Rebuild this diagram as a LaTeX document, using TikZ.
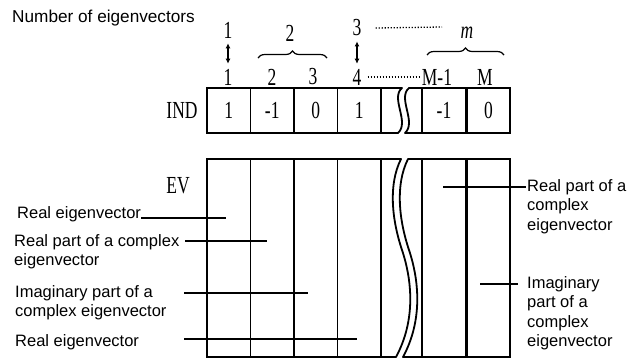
\documentclass[tikz,border=0pt]{standalone}
\usepackage{fontspec}
\setmainfont{Liberation Serif}
\setsansfont{Liberation Sans}
\usetikzlibrary{arrows.meta,decorations.pathreplacing}

\newcommand{\tallnum}[1]{\scalebox{1}[1.4]{#1}}

\begin{document}
\begin{tikzpicture}[
    x=1pt, y=-1pt,
    num/.style={
        font=\fontsize{17.5}{20}\selectfont,
        inner sep=2pt
    },
    txt/.style={
        font=\sffamily\fontsize{16.5}{19.5}\selectfont,
        align=left,
        inner sep=0pt
    },
    cell/.style={
        draw,
        line width=1.8pt,
        minimum width=43.5pt,
        inner sep=0pt,
        outer sep=0pt,
        font=\fontsize{17.5}{20}\selectfont
    },
    indcell/.style={cell, minimum height=45pt},
    evcell/.style={cell, minimum height=198pt},
    border/.style={line width=1.8pt, line join=round},
    leader/.style={line width=1.2pt},
    dotline/.style={line width=1.3pt, dash pattern=on 1.3pt off 1.7pt},
    updown/.style={{Latex[length=5pt,width=5pt]}-{Latex[length=5pt,width=5pt]}, line width=1.1pt, shorten <=3pt, shorten >=3pt},
    grp/.style={decorate, decoration={brace, amplitude=7pt}, line width=1.2pt}
]
    \useasboundingbox (0,0) rectangle (642,360);

    %% Titel
    \node[txt, anchor=base west, font=\sffamily\fontsize{17.2}{20}\selectfont] (title) at (12,22) {Number of eigenvectors};

    %% Nummern oben
    \node[num] (n1top) at (228,30) {\tallnum{1}};
    \node[num] (n2top) at (290,33) {\tallnum{2}};
    \node[num] (n3top) at (357,28) {\tallnum{3}};
    \node[num] (nmtop) at (467,33) {\tallnum{\textit{m}}};
    \node[num] (n1) at (228,77) {\tallnum{1}};
    \node[num] (n2) at (272,77) {\tallnum{2}};
    \node[num] (n3) at (313,77) {\tallnum{3}};
    \node[num] (n4) at (357,77) {\tallnum{4}};
    \node[num] (nM1) at (437,77) {\tallnum{M-1}};
    \node[num] (nM) at (485,77) {\tallnum{M}};

    \draw[updown] (n1top) -- (n1);
    \draw[updown] (n3top) -- (n4);
    \coordinate (dotend) at (442,27);
    \draw[dotline] ([xshift=12pt]n3top.east) -- (dotend);
    \draw[dotline, shorten <=4pt] (n4) -- (nM1);

    \coordinate (b2l) at (258,58);
    \coordinate (b2r) at (327,58);
    \coordinate (bml) at (427,55);
    \coordinate (bmr) at (504,55);
    \draw[grp] (b2l) -- (b2r);
    \draw[grp] (bml) -- (bmr);

    %% Feld IND
    \node[num] (ind) at (182,110.5) {\tallnum{IND}};
    \node[indcell] (i1) at (228.75,110.5) {\tallnum{1}};
    \node[indcell] (i2) at (272.25,110.5) {\tallnum{-1}};
    \node[indcell] (i3) at (315.75,110.5) {\tallnum{0}};
    \node[indcell] (i4) at (359.25,110.5) {\tallnum{1}};
    \node[indcell] (i5) at (444,110.5) {\tallnum{-1}};
    \node[indcell] (i6) at (488.5,110.5) {\tallnum{0}};
    \draw[border] (i4.north east) -- (402,88) .. controls (390,98) and (410,122) .. (398,133) -- (i4.south east);
    \draw[border] (i5.north west) -- (409,88) .. controls (397,98) and (417,122) .. (405,133) -- (i5.south west);

    %% Feld EV
    \node[num] (ev) at (178,186) {\tallnum{EV}};
    \node[evcell] (e1) at (228.75,258) {};
    \node[evcell] (e2) at (272.25,258) {};
    \node[evcell] (e3) at (315.75,258) {};
    \node[evcell] (e4) at (359.25,258) {};
    \node[evcell] (e5) at (444,258) {};
    \node[evcell] (e6) at (488.5,258) {};
    \draw[border] (e4.north east) -- (401,159) .. controls (388,185) and (392,220) .. (402,250)
        .. controls (412,280) and (416,320) .. (396,357) -- (e4.south east);
    \draw[border] (e5.north west) -- (408,159) .. controls (395,185) and (399,220) .. (409,250)
        .. controls (419,280) and (423,320) .. (403,357) -- (e5.south west);

    %% Beschriftung links (base = letzte Zeile)
    \node[txt, anchor=base west] (tl1) at (17,218) {Real eigenvector};
    \node[txt, anchor=base west] (tl2) at (14,265.5) {Real part of a complex\\eigenvector};
    \node[txt, anchor=base west] (tl3) at (15,316.5) {Imaginary part of a\\complex eigenvector};
    \node[txt, anchor=base west] (tl4) at (15,346) {Real eigenvector};
    \coordinate (p1) at (226,218);
    \coordinate (q2) at (185,241);
    \coordinate (p2) at (267,241);
    \coordinate (q3) at (184,293);
    \coordinate (p3) at (308,293);
    \coordinate (q4) at (184,339);
    \coordinate (p4) at (357,339);
    \draw[leader] (tl1.base east) -- (p1);
    \draw[leader] (q2) -- (p2);
    \draw[leader] (q3) -- (p3);
    \draw[leader] (q4) -- (p4);

    %% Beschriftung rechts
    \node[txt, anchor=base west] (tr1) at (527,230) {Real part of a\\complex\\eigenvector};
    \node[txt, anchor=base west] (tr2) at (527,346.5) {Imaginary\\part of a\\complex\\eigenvector};
    \coordinate (p5) at (443,187);
    \coordinate (q5) at (526,187);
    \coordinate (p6) at (480,284);
    \coordinate (q6) at (518,284);
    \draw[leader] (p5) -- (q5);
    \draw[leader] (p6) -- (q6);
\end{tikzpicture}
\end{document}
